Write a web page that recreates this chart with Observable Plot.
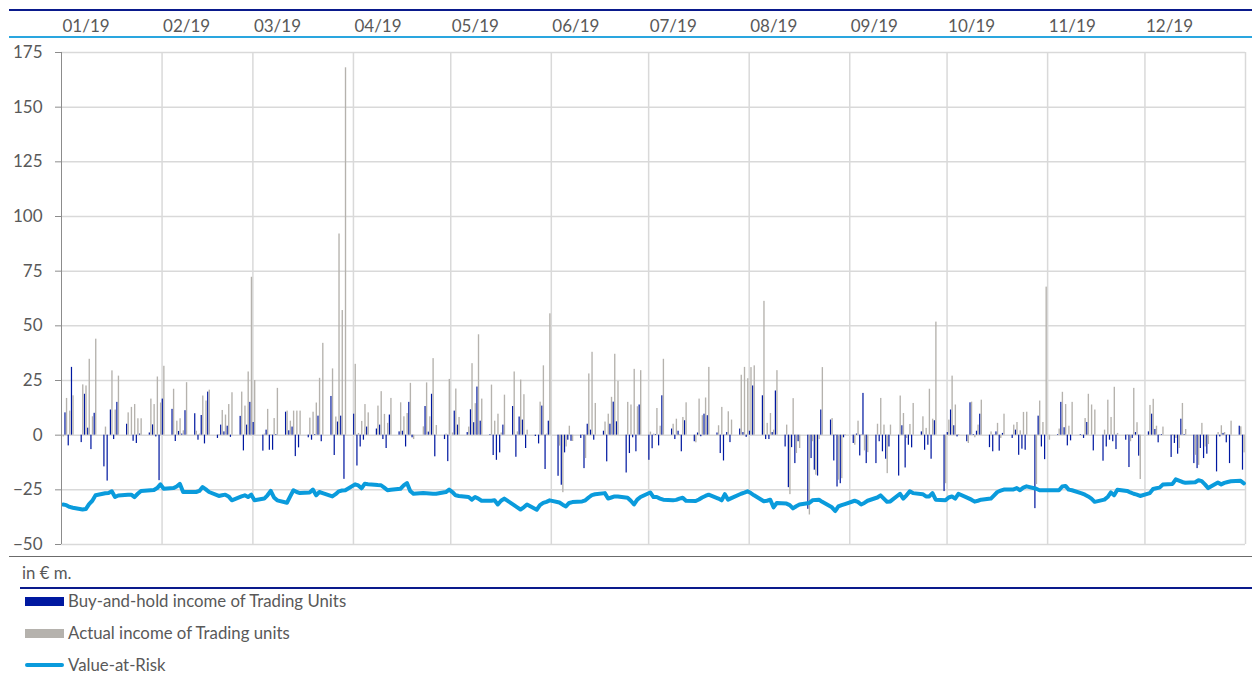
<!DOCTYPE html>
<html><head><meta charset="utf-8">
<script src="https://cdn.jsdelivr.net/npm/d3@7"></script>
<script src="https://cdn.jsdelivr.net/npm/@observablehq/plot@0.6"></script>
<style>
body{margin:0;background:#fff;font-family:Lato,"Open Sans",sans-serif;color:#595959}
#wrap{position:relative;width:1252px;height:675px;overflow:hidden;background:#fff}
.hl{position:absolute;right:0}
.sw{position:absolute;left:25px;width:39px}
.lt{position:absolute;left:68px;font-size:16.8px;line-height:20px;white-space:nowrap;color:#595959}
</style></head><body>
<div id="wrap">
<div id="chart"></div>
<div class="hl" style="left:9px;top:9px;height:1.5px;background:#0a1a8c"></div>
<div class="hl" style="left:9px;top:36px;height:2px;background:#2aa6df"></div>
<div class="hl" style="left:9px;top:556px;height:1.2px;background:#6b6b6b"></div>
<div class="hl" style="left:20px;top:587px;height:1.5px;background:#0a1a8c"></div>
<div class="lt" style="left:22px;top:563px">in € m.</div>
<div class="sw" style="top:597px;height:9px;background:#0018a0"></div>
<div class="lt" style="top:591px">Buy-and-hold income of Trading Units</div>
<div class="sw" style="top:629px;height:9px;background:#b5b2ad"></div>
<div class="lt" style="top:623px">Actual income of Trading units</div>
<div class="sw" style="top:663px;height:4px;border-radius:2px;background:#0a9bdc"></div>
<div class="lt" style="top:655px">Value-at-Risk</div>
</div>
<script>
const monthLabels = ["01/19","02/19","03/19","04/19","05/19","06/19","07/19","08/19","09/19","10/19","11/19","12/19"];
const yTicks = [-50,-25,0,25,50,75,100,125,150,175];

// Buy-and-hold income of Trading Units (EUR m), one row per month, one value per trading day
const buyHold = [
  [0,10.2,-4.9,31,-3.4,18.7,3.2,-6.6,10,-14.5,-21,11.5,-2,15,5,0,-2.8,-3.8,0.5,1,4.7,-0.8,-20.8],
  [16.5,11.8,-2.9,1.7,0.5,11.2,9.8,-2.3,9,-4,19.7,-1.5,4.6,1.5,4.1,-1,8.6,-7.2,4.6,15],
  [5.8,-7.3,2.3,-6.9,-6.9,0.3,10.5,2,3.7,-9.8,-5.8,-1.2,-2.3,0.3,8.7,-3,17.7,-9.3,6,8.7,-20.2],
  [9.6,-14.1,-5.4,-2.3,3.7,2.8,4.6,-2,-6.1,9.2,1.5,1.8,-5.4,15,-1.2,0,13.1,1.4,18.7,-9.9,-2,-12.1],
  [0,11,4.6,1.2,11.6,5.7,22,6.4,0.3,-9.3,-11.5,-8.1,4.6,13.1,-10.1,8.3,6.9,-6.1,-0.6,-4,13.3,-15.7,6.4],
  [-18.8,-22.9,-8.1,-2.3,-2.8,-1.5,-15.3,5,2.3,-2.3,1.8,-12.2,5,15.1,6.1,-17.3,-8.4,-1.2,-7.6,13.8],
  [-11.5,-6.2,0.3,-4.9,18,2.8,-2,1.8,-7.6,6.6,-3,1,-0.7,9.6,8.9,1,-8.4,-11.8,1.2,-3.4,2.8,1.2,-1],
  [1.8,22.5,18,-2,-2,1.2,20.2,-5.4,-24,-5.7,-13,-3,-33.9,-10.7,-16,-18.7,11.5,6.9,-11.8,-23.7,-22.2,-1.2],
  [-3.8,0.5,-9.5,19.1,-13,-13,-3,-7.6,-11,-5.4,-18.7,4.3,-15,-4.6,-5.8,1.5,-6.9,-4.6,-11,6.6,-25.8],
  [1.2,11.5,4.3,-0.8,-3,14.8,0.3,1.8,9.6,-5.7,-7.6,1.5,-7.3,0.8,-1.5,2.3,-9.2,-6.4,-6.9,-33.6,8.7,-5.4,-11.2],
  [0,0.3,15,3.4,-4.9,-2.6,0.3,-1.5,5.8,0,-7.2,-11.9,-5.4,-2.3,-3,-6.6,-2.3,-14.8,-1.5,1.2,-9.6],
  [1.5,9.6,2.6,-3.5,0.3,-10.2,-3.8,-8.7,7.3,0.3,-13,-15.3,-6.1,-10.7,-8.7,-16.8,-0.8,0.8,-3.5,-13,4.1,-16]
];

// Actual income of Trading units (EUR m)
const actualIncome = [
  [-0.8,16.8,11,18,23,22.5,34.7,8.4,43.9,3.7,0,29.4,11.5,27,10.2,12.7,14,7.5,7.5,16.5,14,26.6,14.7],
  [31.5,21,6.4,7.5,2,24,1.8,0.5,17.9,15.6,20.6,0.3,11.3,9.2,14,19.4,19.7,13.3,28.9,72.2],
  [25,0.5,11.8,0.3,7.6,21.4,11,6.4,11,11,11,7.8,10.5,14.7,26,42,30.3,8.3,92,57,168],
  [32.4,0.8,6.3,14,10.2,13.3,19.9,9.5,5.4,16.8,14.8,8.4,9.9,23.7,-2,3.8,23.9,8.4,35,4.4,0.5,25.5],
  [1,21.1,8.1,3.7,32.7,14.4,45.9,16.5,22.9,6.4,9.6,1,18.3,28.9,1.5,25.2,18.5,2.3,0,15.1,31.7,0.5,55.5],
  [-5,-26.3,-5.4,4.1,-2.9,0.3,-10.7,28,37.9,14.5,6,9.6,17.3,37,24.6,15,13.8,30.1,13,29.5],
  [1.4,0.5,12.2,4.1,34.7,5,7.3,0.3,8.1,14.8,-3.5,16.5,8.9,17,31,4.3,12.7,0.3,10.7,6.9,27.4,31,25.8],
  [30.9,31.7,61.2,5.4,9.9,2.3,29.5,4.6,-27.2,16.7,-8.4,-6.1,-36.5,-3,-18.3,-2,30.9,7.6,0.3,-20.6,-19.9,0.3],
  [-4.6,6.4,0.3,-7.2,-8,5,16.8,4.6,-17.6,4.6,17.9,9.9,-1.5,4.9,14.5,8.4,3.1,21,7.3,51.7,-22.2],
  [6.9,27,13.8,0.3,-3.8,15.1,-1.2,4.6,16,1.5,0.3,5.4,-1.5,9.6,4.6,5.8,2,10.4,10.5,-22.6,15.6,5.8,67.7],
  [-2.3,2.8,19.6,14,4.1,15,-0.5,7.6,18.7,13.8,11.5,2.3,16,8.1,21.9,0.8,0.3,-3,21.4,5.7,-20.3],
  [13.6,16.4,4.1,0.3,3.7,0.3,-1.5,-6.1,14.5,2.6,-9.2,-13.8,5.4,-5.4,-4.3,1.2,4.3,1.2,0.3,6.4,3.8,-8.1]
];

// Value-at-Risk (EUR m, shown negative)
const valueAtRisk = [
  [-31.7,-32,-32.8,-33.2,-34,-33.8,-31.5,-30,-27.5,-26.6,-26.5,-25.7,-28.3,-27.6,-27.3,-27.2,-28.3,-26.8,-25.5,-25.2,-25.1,-24.2,-22.5],
  [-24.5,-24.2,-23.5,-22.3,-26,-26,-26,-25.5,-23.7,-24.8,-26,-27.8,-27.5,-27.2,-28,-29.8,-28,-27.5,-28.3,-27.2],
  [-29.8,-29,-27.5,-25.5,-28.5,-29.8,-30.9,-28,-25.2,-26,-26.5,-26.2,-24.9,-27.5,-26,-26.5,-28,-27,-25.7,-25.3,-25.2],
  [-22.5,-23,-24.3,-22.2,-22.4,-22.8,-22.9,-24,-25.2,-25,-24.5,-23,-21.9,-25.5,-26.8,-26.5,-26.6,-26.7,-26.8,-26.8,-26,-24.9],
  [-26,-27.5,-27.8,-28.3,-29.5,-28.3,-29,-30,-30,-29.8,-31.7,-30,-29,-32,-33,-34,-33,-31.7,-34.1,-32,-31,-30.5,-29.8],
  [-30.8,-31.8,-32.6,-31,-30.6,-30.3,-29.8,-28.5,-27.4,-27,-26.5,-29,-28.5,-28,-28,-28.6,-30,-31.7,-29.5,-28.3],
  [-26.2,-28.3,-28.3,-29,-29.5,-29.8,-29.6,-29,-28.6,-30,-30.1,-29.4,-28.5,-27.8,-27.2,-29,-29.8,-27,-29.5,-28.8,-26.8,-26.3,-25.7],
  [-26.5,-27.5,-30.2,-30,-29.5,-33,-31,-31.3,-32,-33.5,-32.5,-31.7,-31,-29.8,-29.6,-29.5,-30.5,-33,-34.7,-32.6,-32,-31.5],
  [-30,-30.5,-31.7,-31,-30,-28.5,-27.5,-29,-30.5,-30.3,-26.8,-29,-27.5,-25.7,-26.5,-27,-28,-28,-26.5,-29.5,-29.8],
  [-28.5,-28,-29,-26.8,-28.8,-29.5,-30.4,-30,-29.5,-29,-27.5,-26,-25.4,-24.9,-24.8,-24.2,-25.2,-24,-23.4,-24.5,-25.2,-25.2,-25.2],
  [-25.2,-25.2,-23.5,-23.2,-24.9,-25.2,-26.6,-27.2,-28,-29,-30.5,-29.5,-28.3,-26.2,-27.5,-25,-25.5,-26.2,-26.8,-27.2,-27.8],
  [-26.5,-24.6,-24.3,-24,-22.6,-22.3,-20.2,-20.8,-21.4,-21.8,-21.5,-20.6,-21,-22.5,-24.2,-21.7,-22.5,-21.8,-21.4,-21.1,-20.9,-22]
];

const start = new Date(Date.UTC(2019, 0, 1));
const end = new Date(Date.UTC(2020, 0, 1));
const weekdays = d3.utcDays(start, end).filter(d => d.getUTCDay() % 6 !== 0);
const rows = [];
for (let m = 0; m < 12; m++) {
  const days = weekdays.filter(d => d.getUTCMonth() === m);
  days.forEach((date, i) => {
    if (i < buyHold[m].length) rows.push({date, bh: buyHold[m][i], act: actualIncome[m][i], v: valueAtRisk[m][i]});
  });
}
const monthStarts = d3.utcMonths(start, end);
const monthRows = monthStarts.map((date, i) => ({date, label: monthLabels[i]}));
const gridDates = d3.utcMonths(d3.utcMonth.offset(start, 1), d3.utcDay.offset(end, 1));
const hr = (d, h) => d3.utcHour.offset(d, h);

const chart = Plot.plot({
  width: 1252,
  height: 675,
  marginTop: 52,
  marginBottom: 131,
  marginLeft: 61,
  marginRight: 7,
  style: {fontFamily: "Lato, 'Open Sans', sans-serif", color: "#595959", background: "transparent", overflow: "visible"},
  x: {type: "utc", domain: [start, end], axis: null},
  y: {domain: [-50, 175], axis: null},
  marks: [
    Plot.gridY(yTicks, {stroke: "#d9d9d9", strokeOpacity: 1, strokeWidth: 1.5}),
    Plot.gridX(gridDates, {stroke: "#d9d9d9", strokeOpacity: 1, strokeWidth: 1.5}),
    Plot.rect(rows, {x1: d => hr(d.date, 1), x2: d => hr(d.date, 10), y1: 0, y2: "bh", fill: "#0018a0"}),
    Plot.rect(rows, {x1: d => hr(d.date, 12.5), x2: d => hr(d.date, 22), y1: 0, y2: "act", fill: "#b5b2ad"}),
    Plot.line(rows, {x: d => hr(d.date, 12), y: "v", stroke: "#0a9bdc", strokeWidth: 4, strokeLinejoin: "round", strokeLinecap: "round"}),
    Plot.ruleX([start], {stroke: "#8c8c8c", strokeWidth: 1}),
    Plot.axisY(yTicks, {tickSize: 6, tickPadding: 13, fontSize: 17, stroke: "#8c8c8c"}),
    Plot.text(monthRows, {x: "date", text: "label", frameAnchor: "top", lineAnchor: "middle", dy: -26, dx: 1, textAnchor: "start", fontSize: 17, fill: "#595959"})
  ]
});
chart.style.position = "absolute";
chart.style.left = "0";
chart.style.top = "0";
document.getElementById("chart").appendChild(chart);
</script>
</body></html>
